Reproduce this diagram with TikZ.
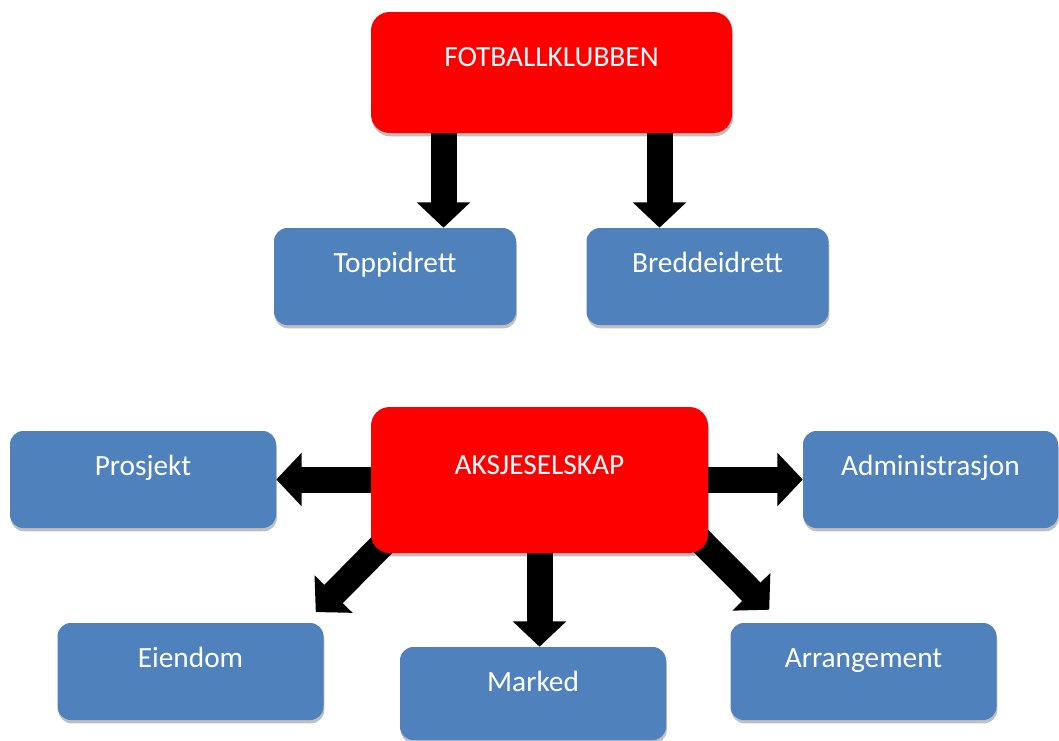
\documentclass[tikz,border=0pt]{standalone}
\usepackage{fontspec}
\setmainfont{Carlito}
\usetikzlibrary{arrows.meta,shadows,backgrounds}
\definecolor{klubbrod}{RGB}{255,0,0}
\definecolor{boksblaa}{RGB}{79,129,189}
\begin{document}
\begin{tikzpicture}[x=0.75pt,y=-0.75pt]
	\tikzstyle{every node}+=[inner sep=0pt, text=white, font=\fontsize{22}{24}\selectfont]
	\tikzstyle{boks}=[rounded corners=10pt, drop shadow={shadow xshift=0.6pt, shadow yshift=-2.5pt, opacity=0.25, fill=black}]
	\tikzstyle{rodboks}=[boks, fill=klubbrod, rounded corners=14pt]
	\tikzstyle{blaaboks}=[boks, fill=boksblaa, minimum width=199.5pt, text height=33pt, text depth=39.75pt]
	\tikzstyle{pil}=[line width=19.5pt, -{Triangle[width=39pt, length=19pt]}]
	\useasboundingbox (0,0) rectangle (1059,740);
	\node [rodboks, minimum width=270.75pt, text height=40.5pt, text depth=50.25pt] (klubb) at (551.5,72.5) {FOTBALLKLUBBEN};
	\node [blaaboks, minimum width=181.5pt] (topp) at (395,276.5) {Toppidrett};
	\node [blaaboks, minimum width=181.5pt] (bredde) at (707.5,276.5) {Breddeidrett};
	\node [rodboks, minimum width=252.75pt, text height=50.25pt, text depth=59.25pt] (aksje) at (539.5,480) {AKSJESELSKAP};
	\node [blaaboks] (prosjekt) at (143,479.5) {Prosjekt};
	\node [blaaboks, minimum width=191.25pt] (admin) at (930.5,479.5) {Administrasjon};
	\node [blaaboks] (eiendom) at (190.5,671.5) {Eiendom};
	\node [blaaboks, text depth=36.75pt] (marked) at (533,693.5) {Marked};
	\node [blaaboks] (arrangement) at (863.5,671.5) {Arrangement};
	\begin{scope}[on background layer]
		\draw [pil] ([xshift=-81pt]klubb.center) -- ([xshift=-81pt]klubb.center |- topp.north);
		\draw [pil] ([xshift=81pt]klubb.center) -- ([xshift=81pt]klubb.center |- bredde.north);
		\draw [pil] (aksje.center |- prosjekt.east) -- (prosjekt.east);
		\draw [pil] (aksje.center |- admin.west) -- (admin.west);
		\draw [pil] (aksje.center) -- (aksje.center |- marked.north);
		\draw [pil] ([shift={(22pt,20pt)}]aksje.south west) -- ([shift={(-6pt,8pt)}]eiendom.north east);
		\draw [pil] ([shift={(-21pt,24.75pt)}]aksje.south east) -- ([shift={(29.25pt,9.75pt)}]arrangement.north west);
	\end{scope}
\end{tikzpicture}
\end{document}
